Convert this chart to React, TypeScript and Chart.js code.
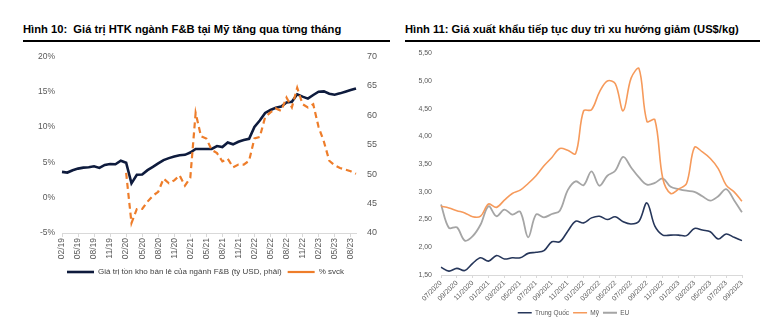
import React, { useEffect, useRef } from 'react';
import { Chart, registerables } from 'chart.js';
Chart.register(...registerables);

// ---------- Hình 10 data ----------
const leftLabels = [
  '02/19','03/19','04/19','05/19','06/19','07/19','08/19','09/19','10/19','11/19','12/19',
  '01/20','02/20','03/20','04/20','05/20','06/20','07/20','08/20','09/20','10/20','11/20','12/20',
  '01/21','02/21','03/21','04/21','05/21','06/21','07/21','08/21','09/21','10/21','11/21','12/21',
  '01/22','02/22','03/22','04/22','05/22','06/22','07/22','08/22','09/22','10/22','11/22','12/22',
  '01/23','02/23','03/23','04/23','05/23','06/23','07/23','08/23','09/23'
];
const inventoryUsd = [
  50.38,50.27,50.67,50.94,51.11,51.17,51.33,51.06,51.56,51.72,
  51.67,52.28,51.94,48.44,49.89,49.94,50.67,51.22,51.83,52.39,
  52.72,53.0,53.22,53.28,53.67,54.28,54.28,54.28,54.28,54.78,
  54.61,55.39,55.06,55.5,55.78,56.0,58.0,59.11,60.39,60.89,
  61.28,61.5,62.17,62.28,63.56,63.17,62.83,63.44,64.0,64.06,
  63.67,63.5,63.72,64.0,64.28,64.56
];
const yoyPct = [
  null,null,null,null,null,null,null,null,null,null,null,null,
  3.5,-3.6,-1.6,-1.6,-0.56,0.28,0.83,2.7,2.04,2.45,3.15,1.7,2.8,12.0,
  8.7,8.38,6.76,6.3,5.14,5.51,4.31,4.68,4.68,5.23,8.38,8.6,11.4,12.08,
  12.64,12.3,14.17,12.78,15.56,13.24,12.78,13.24,10.0,7.92,5.23,4.58,4.21,3.98,3.75,3.38
];

// ---------- Hình 11 data ----------
const rightLabels = [
  '07/2020','08/2020','09/2020','10/2020','11/2020','12/2020',
  '01/2021','02/2021','03/2021','04/2021','05/2021','06/2021','07/2021','08/2021','09/2021','10/2021','11/2021','12/2021',
  '01/2022','02/2022','03/2022','04/2022','05/2022','06/2022','07/2022','08/2022','09/2022','10/2022','11/2022','12/2022',
  '01/2023','02/2023','03/2023','04/2023','05/2023','06/2023','07/2023','08/2023','09/2023'
];
const chinaPrice = [
  1.64,1.57,1.62,1.58,1.71,1.81,1.75,1.85,1.79,1.81,
  1.81,1.89,1.91,1.94,2.10,2.10,2.29,2.47,2.44,2.53,
  2.56,2.50,2.55,2.46,2.42,2.47,2.80,2.38,2.22,2.22,
  2.22,2.21,2.34,2.31,2.28,2.15,2.24,2.18,2.12
];
const usPrice = [
  2.74,2.71,2.66,2.62,2.55,2.56,2.78,2.72,2.85,2.97,
  3.03,3.15,3.29,3.47,3.62,3.78,3.75,3.69,4.46,4.48,
  4.80,5.0,4.95,4.46,5.05,5.22,4.27,4.30,3.24,2.97,
  3.05,3.15,3.80,3.72,3.60,3.42,3.12,3.0,2.83
];
const euPrice = [
  2.77,2.35,2.36,2.12,2.20,2.41,2.74,2.56,2.68,2.59,
  2.64,2.18,2.59,2.54,2.60,2.66,3.03,3.19,3.12,3.37,
  3.11,3.29,3.38,3.63,3.44,3.26,3.13,3.16,3.24,3.09,
  3.05,3.02,3.00,2.92,2.84,2.92,3.05,2.85,2.63
];

const FONT = "'Liberation Sans', Arial, sans-serif";
const TXT = '#595959';

export default function App() {
  const leftRef = useRef<HTMLCanvasElement>(null);
  const rightRef = useRef<HTMLCanvasElement>(null);

  useEffect(() => {
    const left = new Chart(leftRef.current!, {
      type: 'line',
      data: {
        labels: leftLabels,
        datasets: [
          {
            label: 'Giá trị tồn kho bán lẻ của ngành F&B (tỷ USD, phải)',
            data: inventoryUsd,
            yAxisID: 'y1',
            borderColor: '#0e1b3d',
            backgroundColor: '#0e1b3d',
            borderWidth: 2.6,
            pointRadius: 0,
            tension: 0,
            order: 1,
          },
          {
            label: '% svck',
            data: yoyPct as any,
            yAxisID: 'y',
            borderColor: '#ee7d2a',
            backgroundColor: '#ee7d2a',
            borderWidth: 2.2,
            borderDash: [6, 4],
            pointRadius: 0,
            tension: 0,
            order: 0,
          },
        ],
      },
      options: {
        responsive: false,
        animation: false,
        layout: { padding: { top: 13, left: 0, right: 0, bottom: 0 } },
        plugins: {
          tooltip: { enabled: false },
          legend: {
            position: 'bottom',
            labels: {
              usePointStyle: true,
              pointStyle: 'line',
              pointStyleWidth: 27,
              boxHeight: 8,
              padding: 6,
              color: '#404040',
              font: { family: FONT, size: 8 },
              sort: (a: any, b: any) => a.datasetIndex - b.datasetIndex,
            },
          },
        },
        scales: {
          x: {
            afterFit: (s: any) => { s.height = 29; },
            border: { display: true, color: '#d9d9d9' },
            grid: {
              drawOnChartArea: false,
              tickLength: 4,
              color: (c: any) => (c.index % 3 === 0 ? '#d9d9d9' : 'rgba(0,0,0,0)'),
              tickColor: (c: any) => (c.index % 3 === 0 ? '#d9d9d9' : 'rgba(0,0,0,0)'),
            },
            ticks: {
              autoSkip: false,
              minRotation: 90,
              maxRotation: 90,
              padding: 1,
              color: TXT,
              font: { family: FONT, size: 8.5 },
              callback: (_v: any, i: number) => (i % 3 === 0 ? leftLabels[i] : ''),
            },
          },
          y: {
            position: 'left',
            min: -5,
            max: 20,
            afterFit: (s: any) => { s.width = 42; },
            border: { display: false },
            grid: { display: false, drawTicks: false },
            ticks: {
              stepSize: 5,
              padding: 7,
              color: TXT,
              font: { family: FONT, size: 8.5 },
              callback: (v: any) => v + '%',
            },
          },
          y1: {
            position: 'right',
            min: 40,
            max: 70,
            afterFit: (s: any) => { s.width = 35; },
            border: { display: false },
            grid: { display: false, drawTicks: false },
            ticks: {
              stepSize: 5,
              padding: 11,
              color: TXT,
              font: { family: FONT, size: 9 },
            },
          },
        },
      },
    });

    const right = new Chart(rightRef.current!, {
      type: 'line',
      data: {
        labels: rightLabels,
        datasets: [
          {
            label: 'Trung Quốc',
            data: chinaPrice,
            borderColor: '#26365a',
            backgroundColor: '#26365a',
            borderWidth: 1.6,
            pointRadius: 0,
            tension: 0.35,
          },
          {
            label: 'Mỹ',
            data: usPrice,
            borderColor: '#f69a5b',
            backgroundColor: '#f69a5b',
            borderWidth: 1.6,
            pointRadius: 0,
            tension: 0.35,
          },
          {
            label: 'EU',
            data: euPrice,
            borderColor: '#a5a5a5',
            backgroundColor: '#a5a5a5',
            borderWidth: 1.8,
            pointRadius: 0,
            tension: 0.35,
          },
        ],
      },
      options: {
        responsive: false,
        animation: false,
        layout: { padding: { top: 8, left: 0, right: 23, bottom: 0 } },
        plugins: {
          tooltip: { enabled: false },
          legend: {
            position: 'bottom',
            labels: {
              usePointStyle: true,
              pointStyle: 'line',
              pointStyleWidth: 14,
              boxHeight: 6,
              padding: 4,
              color: TXT,
              font: { family: FONT, size: 6.5 },
            },
          },
        },
        scales: {
          x: {
            afterFit: (s: any) => { s.height = 30.5; },
            border: { display: true, color: '#d9d9d9' },
            grid: {
              drawOnChartArea: false,
              tickLength: 3,
              color: (c: any) => (c.index % 2 === 0 ? '#d9d9d9' : 'rgba(0,0,0,0)'),
              tickColor: (c: any) => (c.index % 2 === 0 ? '#d9d9d9' : 'rgba(0,0,0,0)'),
            },
            ticks: {
              autoSkip: false,
              minRotation: 45,
              maxRotation: 45,
              padding: 1,
              color: TXT,
              font: { family: FONT, size: 7 },
              callback: (_v: any, i: number) => (i % 2 === 0 ? rightLabels[i] : ''),
            },
          },
          y: {
            min: 1.5,
            max: 5.5,
            afterFit: (s: any) => { s.width = 36; },
            border: { display: false },
            grid: { display: false, drawTicks: false },
            ticks: {
              stepSize: 0.5,
              padding: 9,
              color: TXT,
              font: { family: FONT, size: 7 },
              callback: (v: any) => Number(v).toFixed(2).replace('.', ','),
            },
          },
        },
      },
    });

    return () => {
      left.destroy();
      right.destroy();
    };
  }, []);

  const titleStyle: React.CSSProperties = {
    position: 'absolute',
    top: 22,
    font: `bold 11.2px ${FONT}`,
    lineHeight: '14px',
    color: '#000',
    whiteSpace: 'pre',
  };

  return (
    <div style={{ position: 'fixed', left: 0, top: 0, width: 765, height: 323, background: '#fff', overflow: 'hidden' }}>
      <div style={{ ...titleStyle, left: 23 }}>{'Hình 10:  Giá trị HTK ngành F&B tại Mỹ tăng qua từng tháng'}</div>
      <div style={{ position: 'absolute', left: 23, top: 40, width: 367, height: 2, background: '#000' }} />
      <canvas ref={leftRef} width={371} height={246} style={{ position: 'absolute', left: 20, top: 40, width: 371, height: 246 }} />

      <div style={{ ...titleStyle, left: 405 }}>{'Hình 11: Giá xuất khẩu tiếp tục duy trì xu hướng giảm (US$/kg)'}</div>
      <div style={{ position: 'absolute', left: 405, top: 40, width: 355, height: 2, background: '#000' }} />
      <canvas ref={rightRef} width={360} height={286} style={{ position: 'absolute', left: 405, top: 40, width: 360, height: 286 }} />
    </div>
  );
}
